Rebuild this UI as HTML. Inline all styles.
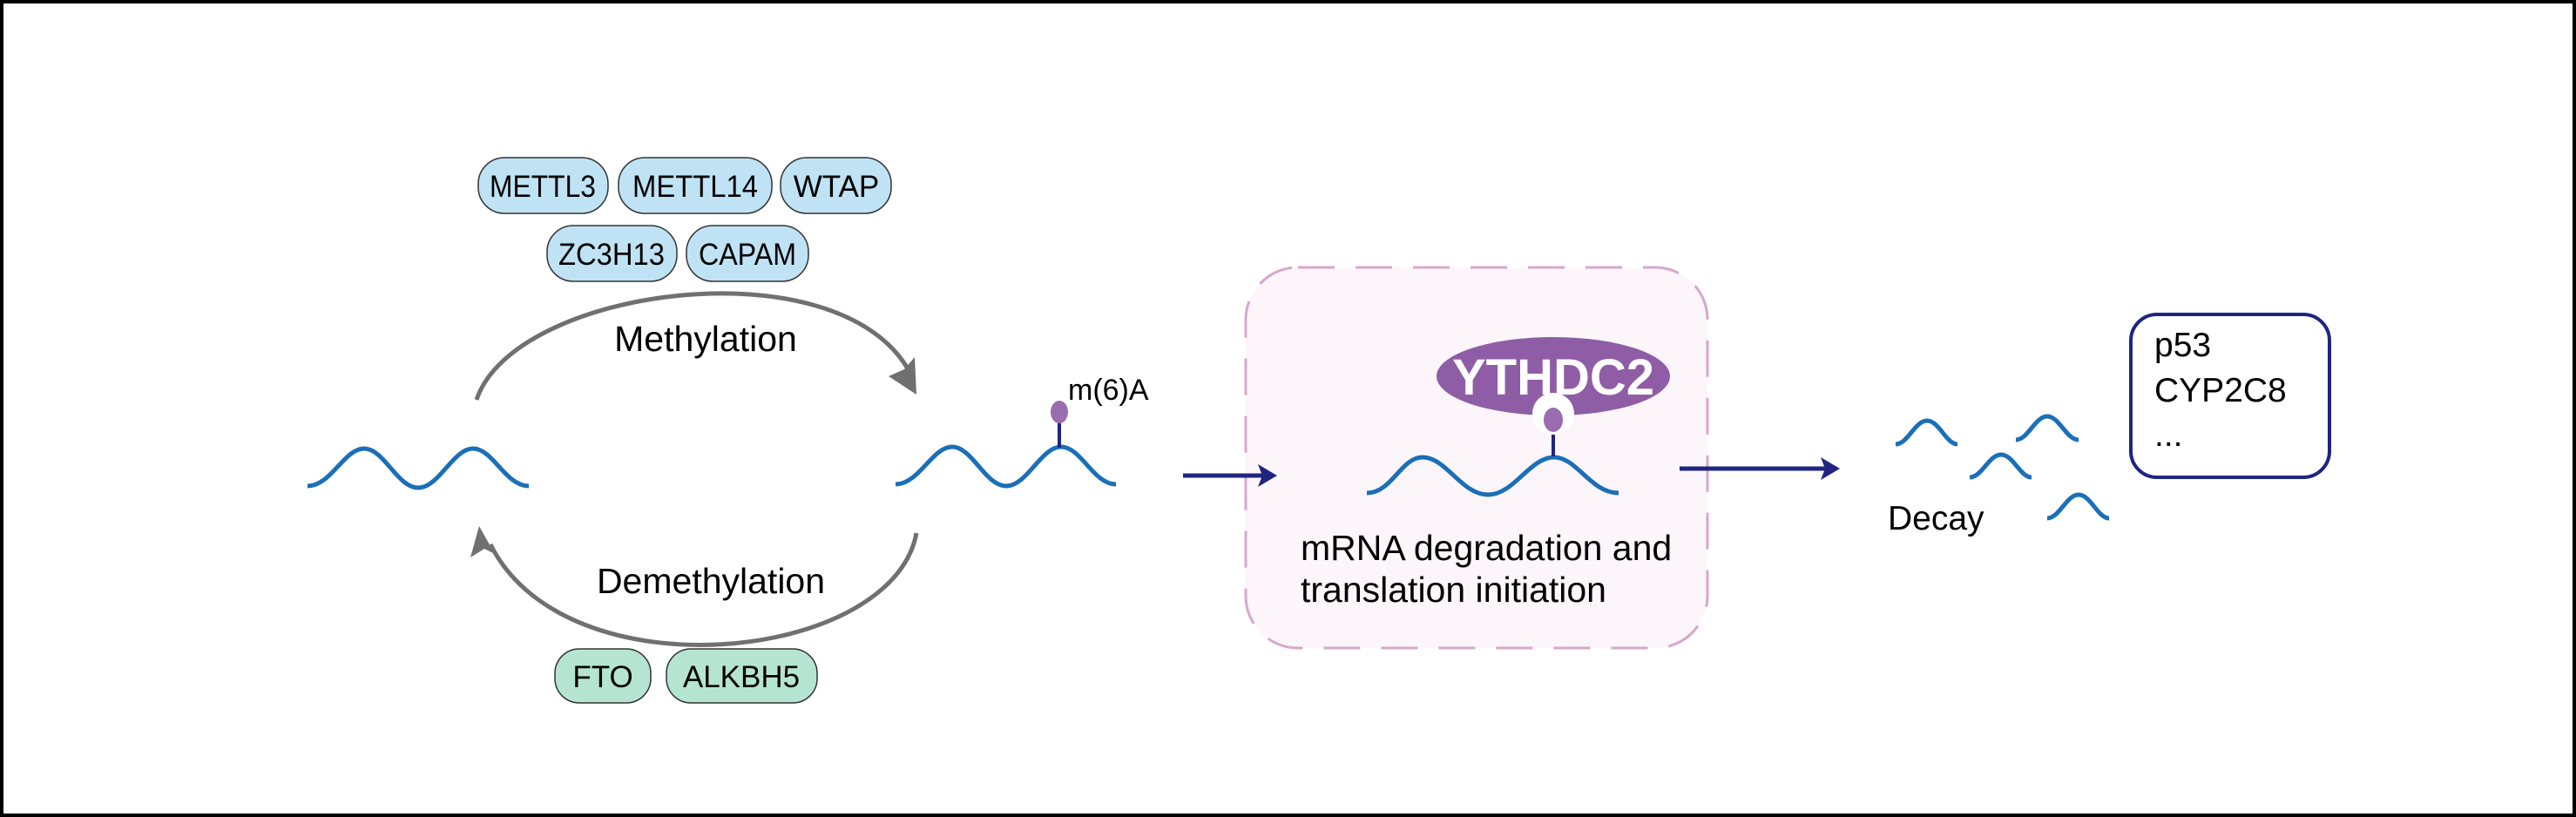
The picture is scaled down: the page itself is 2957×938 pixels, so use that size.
<!DOCTYPE html>
<html><head><meta charset="utf-8"><style>
html,body{margin:0;padding:0;background:#fff;}
svg{display:block;font-family:"Liberation Sans",Arial,sans-serif;}
</style></head><body>
<svg width="2957" height="938" viewBox="0 0 2957 938" xmlns="http://www.w3.org/2000/svg">
<rect x="2" y="2" width="2953" height="934" fill="#fff" stroke="#000" stroke-width="4"/>
<rect x="1430" y="307" width="530" height="437" rx="60" fill="#fcf5fa" stroke="#d6a8cc" stroke-width="3" stroke-dasharray="42 24"/>
<g stroke="#333" stroke-width="1.5" fill="#bfe3f4">
<rect x="549" y="181" width="149" height="64" rx="30"/>
<rect x="710" y="181" width="176" height="64" rx="30"/>
<rect x="896" y="181" width="127" height="64" rx="30"/>
<rect x="628" y="259" width="149" height="64" rx="30"/>
<rect x="788" y="259" width="140" height="64" rx="30"/>
</g>
<g font-size="35" fill="#000" text-anchor="middle">
<text x="623" y="226" textLength="122" lengthAdjust="spacingAndGlyphs">METTL3</text>
<text x="798" y="226" textLength="144" lengthAdjust="spacingAndGlyphs">METTL14</text>
<text x="960" y="226">WTAP</text>
<text x="702" y="304" textLength="122" lengthAdjust="spacingAndGlyphs">ZC3H13</text>
<text x="858" y="304" textLength="112" lengthAdjust="spacingAndGlyphs">CAPAM</text>
</g>
<g stroke="#333" stroke-width="1.5" fill="#b5e5d2">
<rect x="637" y="745" width="110" height="62" rx="28"/>
<rect x="765" y="745" width="173" height="62" rx="28"/>
</g>
<g font-size="35" fill="#000" text-anchor="middle">
<text x="692" y="789">FTO</text>
<text x="851" y="789">ALKBH5</text>
</g>
<g fill="none" stroke="#707070" stroke-width="5">
<path d="M547 459 C590 330 960 280 1043 425"/>
<path d="M1052 612 C1025 760 650 800 563 625"/>
</g>
<polygon points="1052,453 1020,432 1038,424 1050,410" fill="#707070"/>
<polygon points="550,604 568,636 556,630 540,640" fill="#707070"/>
<text x="810" y="403" font-size="41" text-anchor="middle">Methylation</text>
<text x="816" y="681" font-size="41" text-anchor="middle">Demethylation</text>
<g fill="none" stroke="#1a6fb8" stroke-width="5">
<path d="M353 558 C380 558 395 515 418 515 C441 515 456 560 480 560 C504 560 520 515 543 515 C566 515 580 558 607 558"/>
<path d="M1028 556 C1055 556 1070 513 1093 513 C1116 513 1131 558 1155 558 C1179 558 1195 513 1218 513 C1241 513 1255 556 1281 556"/>
<path d="M1569 566 C1598 566 1608 525 1633 525 C1660 525 1678 568 1708 568 C1738 568 1756 525 1784 525 C1810 525 1826 566 1858 566"/>
<path d="M2176 510 C2190 510 2198 483 2212 483 C2226 483 2234 510 2247 510"/>
<path d="M2314 505 C2328 505 2336 478 2350 478 C2364 478 2372 505 2386 505"/>
<path d="M2261 548 C2275 548 2283 522 2297 522 C2311 522 2319 548 2332 548"/>
<path d="M2350 595 C2364 595 2372 568 2386 568 C2400 568 2408 595 2421 595"/>
</g>
<line x1="1216" y1="485" x2="1216" y2="514" stroke="#1f2580" stroke-width="4"/>
<ellipse cx="1216" cy="473" rx="10" ry="13" fill="#9a6db0"/>
<text x="1226" y="459" font-size="34">m(6)A</text>
<g stroke="#1f2580" stroke-width="5">
<line x1="1358" y1="546" x2="1455" y2="546"/>
<line x1="1928" y1="538" x2="2100" y2="538"/>
</g>
<polygon points="1466,546 1444,533 1449,546 1444,559" fill="#1f2580"/>
<polygon points="2112,538 2090,525 2095,538 2090,551" fill="#1f2580"/>
<line x1="1783" y1="495" x2="1783" y2="524" stroke="#1f2580" stroke-width="4"/>
<ellipse cx="1783" cy="432" rx="134" ry="45" fill="#8f5da6"/>
<circle cx="1783" cy="475" r="24" fill="#fff"/>
<ellipse cx="1783" cy="482" rx="11" ry="14" fill="#9a6db0"/>
<text x="1783" y="453" font-size="58" font-weight="bold" fill="#fff" text-anchor="middle">YTHDC2</text>
<text x="1493" y="643" font-size="41">mRNA degradation and</text>
<text x="1493" y="691" font-size="41">translation initiation</text>
<text x="2167" y="608" font-size="39">Decay</text>
<rect x="2446" y="361" width="228" height="187" rx="30" fill="#fff" stroke="#1f2580" stroke-width="4"/>
<g font-size="39"><text x="2473" y="409">p53</text><text x="2473" y="461">CYP2C8</text><text x="2473" y="512">...</text></g>
</svg>
</body></html>
